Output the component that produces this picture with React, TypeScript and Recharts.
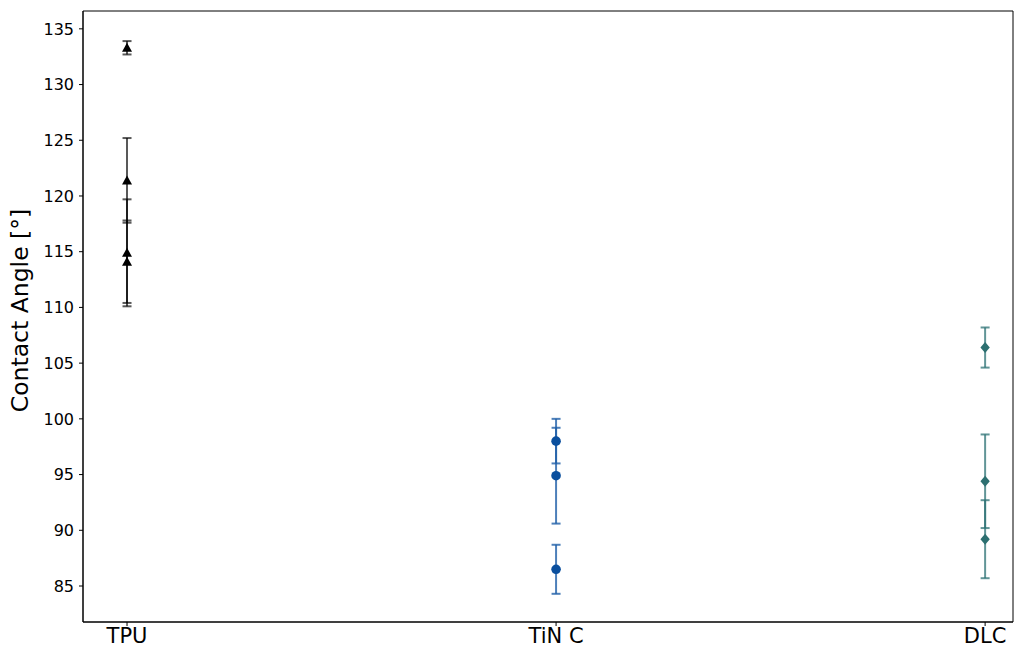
import React from "react";
import {
  ScatterChart,
  Scatter,
  XAxis,
  YAxis,
  ErrorBar,
  ReferenceArea,
  Label,
} from "recharts";

// coatings on the x axis, contact angle readings with std-dev
const categories = ["TPU", "TiN C", "DLC"];

const tpuAngle = [133.3, 121.4, 114.9, 114.1];
const tpuErr = [0.6, 3.8, 4.8, 3.7];

const tinAngle = [98.0, 94.9, 86.5];
const tinErr = [2.0, 4.3, 2.2];

const dlcAngle = [106.4, 94.4, 89.2];
const dlcErr = [1.8, 4.2, 3.5];

const yTicks = [85, 90, 95, 100, 105, 110, 115, 120, 125, 130, 135];

const toRows = (idx: number, vals: number[], errs: number[]) =>
  vals.map((v, i) => ({ x: idx, y: v, err: errs[i] }));

const tpuRows = toRows(0, tpuAngle, tpuErr);
const tinRows = toRows(1, tinAngle, tinErr);
const dlcRows = toRows(2, dlcAngle, dlcErr);

const font = "DejaVu Sans, sans-serif";

const Triangle = (props: any) => {
  const { cx, cy } = props;
  const r = 5;
  return (
    <polygon
      points={`${cx},${cy - r} ${cx - r},${cy + r * 0.8} ${cx + r},${cy + r * 0.8}`}
      fill="#000"
    />
  );
};

const Dot = (props: any) => <circle cx={props.cx} cy={props.cy} r={4.8} fill="#0a4f9e" />;

const Diamond = (props: any) => {
  const { cx, cy } = props;
  const r = 5.5;
  return (
    <polygon
      points={`${cx},${cy - r} ${cx + r * 0.85},${cy} ${cx},${cy + r} ${cx - r * 0.85},${cy}`}
      fill="#2c6f70"
    />
  );
};

const YLabel = (props: any) => {
  const vb = props.viewBox;
  const cy = vb.y + vb.height / 2 - 6;
  return (
    <text
      x={20}
      y={cy}
      transform={`rotate(-90, 20, ${cy})`}
      textAnchor="middle"
      dominantBaseline="central"
      fontSize={23.5}
      fontFamily={font}
      fill="#000"
    >
      Contact Angle [°]
    </text>
  );
};

export default function App() {
  return (
    <div style={{ position: "absolute", left: 0, top: 0, background: "#fff" }}>
      <ScatterChart
        width={1014}
        height={653}
        margin={{ top: 11, right: 1, left: 0, bottom: 0 }}
      >
        <XAxis
          type="number"
          dataKey="x"
          domain={[-0.1026, 2.065]}
          ticks={[0, 1, 2]}
          allowDataOverflow
          tickFormatter={(v: number) => categories[v]}
          height={31}
          stroke="#000"
          tickSize={4}
          tick={{ fontSize: 21, fontFamily: font, fill: "#000" }}
        />
        <YAxis
          type="number"
          dataKey="y"
          domain={[81.77, 136.6]}
          ticks={yTicks}
          allowDataOverflow
          width={83}
          stroke="#000"
          tickSize={4}
          tick={{ fontSize: 16, fontFamily: font, fill: "#000", dx: -3 }}
        >
          <Label content={<YLabel />} />
        </YAxis>
        <ReferenceArea
          x1={-0.1026}
          x2={2.065}
          y1={81.77}
          y2={136.6}
          fill="none"
          stroke="#000"
          strokeWidth={1}
          fillOpacity={0}
        />
        <Scatter data={tpuRows} shape={<Triangle />} isAnimationActive={false}>
          <ErrorBar dataKey="err" direction="y" width={4.5} stroke="#000" strokeOpacity={0.65} strokeWidth={2} />
        </Scatter>
        <Scatter data={tinRows} shape={<Dot />} isAnimationActive={false}>
          <ErrorBar dataKey="err" direction="y" width={4.5} stroke="#1f5fa8" strokeOpacity={0.8} strokeWidth={2} />
        </Scatter>
        <Scatter data={dlcRows} shape={<Diamond />} isAnimationActive={false}>
          <ErrorBar dataKey="err" direction="y" width={4.5} stroke="#2c7274" strokeOpacity={0.75} strokeWidth={2} />
        </Scatter>
      </ScatterChart>
    </div>
  );
}
